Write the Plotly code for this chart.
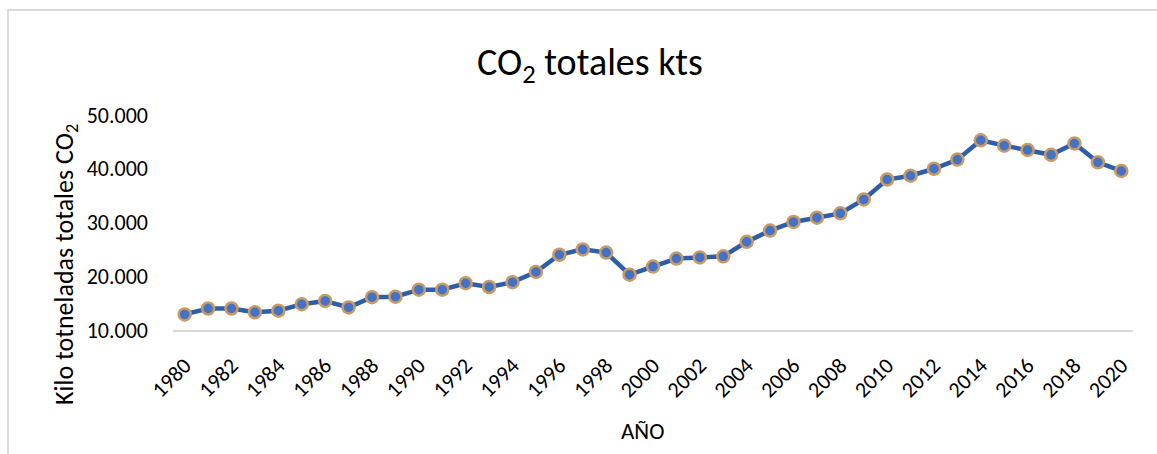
import plotly.graph_objects as go

years = list(range(1980, 2021))
co2_kt = [12900, 14000, 14000, 13300, 13600, 14800, 15400, 14200, 16100, 16200,
          17500, 17500, 18700, 18000, 18900, 20800, 24000, 25000, 24400, 20300,
          21800, 23300, 23500, 23700, 26400, 28500, 30100, 30900, 31700, 34300,
          38000, 38700, 40000, 41700, 45300, 44300, 43500, 42600, 44700, 41200,
          39600]
x_tick_years = list(range(1980, 2021, 2))
y_ticks = [10000, 20000, 30000, 40000, 50000]

title_text = "CO<sub>2</sub> totales kts"
y_title = "Kilo totneladas totales CO<sub>2</sub>"
x_title = "AÑO"

FONT = "Calibri, Carlito, Lato, sans-serif"
W, H = 1157, 454
L, R, T, B = 173, 24, 115, 124
pw = W - L - R
ph = H - T - B

def px_x(px):
    return (px - L) / pw

def px_y(py):
    return (H - B - py) / ph

fig = go.Figure()
fig.add_trace(go.Scatter(
    x=years, y=co2_kt, mode="lines+markers",
    line=dict(color="#2E5DAA", width=4.5),
    marker=dict(size=12, color="#4472C4", line=dict(color="#C89A64", width=2.5)),
    showlegend=False,
))

fig.update_layout(
    width=W, height=H,
    margin=dict(l=L, r=R, t=T, b=B),
    paper_bgcolor="white", plot_bgcolor="white",
    separators=",.",
    font=dict(family=FONT, color="#000000"),
    title=dict(text=title_text, x=px_x(590), xref="paper", xanchor="center",
               y=1 - 62 / H, yref="container", yanchor="middle",
               font=dict(size=38, color="#000000", family=FONT)),
    xaxis=dict(
        range=[1979.5, 2020.5], tickmode="array", tickvals=x_tick_years,
        ticktext=[str(v) for v in x_tick_years], tickangle=-45,
        showgrid=False, zeroline=False, showline=True, linecolor="#D9D9D9", linewidth=2,
        ticks="", ticklabelstandoff=12, tickfont=dict(size=22, color="#000000"),
    ),
    yaxis=dict(
        range=[10000, 50000], tickmode="array", tickvals=y_ticks,
        tickformat=",d", showgrid=False, zeroline=False, showline=False,
        ticks="", ticklabelstandoff=24, tickfont=dict(size=22, color="#000000"),
    ),
    annotations=[
        dict(text=y_title, xref="paper", yref="paper", x=px_x(65), y=px_y(265),
             xanchor="center", yanchor="middle", textangle=-90, showarrow=False,
             font=dict(size=26, color="#000000", family=FONT)),
        dict(text=x_title, xref="paper", yref="paper", x=px_x(642), y=px_y(431),
             xanchor="center", yanchor="middle", showarrow=False,
             font=dict(size=23, color="#000000", family=FONT)),
    ],
    shapes=[dict(type="rect", xref="paper", yref="paper",
                 x0=px_x(8), x1=px_x(1190), y0=px_y(480), y1=px_y(10),
                 line=dict(color="#DADADA", width=2), fillcolor="rgba(0,0,0,0)",
                 layer="below")],
)

fig.write_html("out.html", config={"displayModeBar": False},
               post_script="document.body.style.margin='0';")
